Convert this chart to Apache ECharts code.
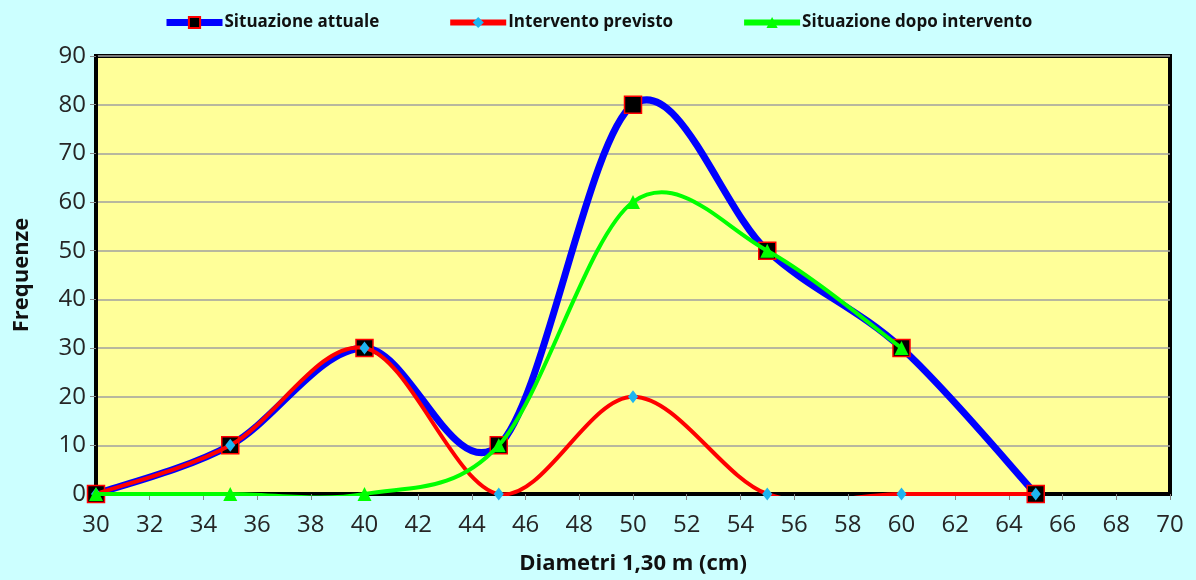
<!DOCTYPE html>
<html>
<head>
<meta charset="utf-8">
<script src="https://cdn.jsdelivr.net/npm/echarts@6/dist/echarts.min.js"></script>
<style>
html,body{margin:0;padding:0;background:#CCFFFF;}
#chart{width:1196px;height:580px;}
</style>
</head>
<body>
<div id="chart"></div>
<script>
// Diameter classes (cm) and frequencies per scenario
const diametri = [30, 35, 40, 45, 50, 55, 60, 65];
const situazioneAttuale = [0, 10, 30, 10, 80, 50, 30, 0];
const interventoPrevisto = [0, 10, 30, 0, 20, 0, 0, 0];
const diametriDopo = [30, 35, 40, 45, 50, 55, 60];
const situazioneDopo = [0, 0, 0, 10, 60, 50, 30];

const pairs = (xs, ys) => xs.map((x, i) => [x, ys[i]]);

const font = "'Open Sans', 'Noto Sans', sans-serif";

// Spreadsheet-style smoothed curve: cubic Bezier segments whose control
// points sit 1/6 of the neighbour chord away from each point (pixel space).
function smoothCurve(xs, ys, color, width) {
  return function (params, api) {
    if (params.dataIndex !== 0) return null;
    const p = xs.map((x, i) => api.coord([x, ys[i]]));
    const n = p.length;
    const tan = p.map((pt, i) => {
      const a = p[Math.max(i - 1, 0)];
      const b = p[Math.min(i + 1, n - 1)];
      return [(b[0] - a[0]) / 6, (b[1] - a[1]) / 6];
    });
    let d = 'M' + p[0][0] + ' ' + p[0][1];
    for (let i = 1; i < n; i++) {
      const c1 = [p[i - 1][0] + tan[i - 1][0], p[i - 1][1] + tan[i - 1][1]];
      const c2 = [p[i][0] - tan[i][0], p[i][1] - tan[i][1]];
      d += ' C' + c1[0] + ' ' + c1[1] + ' ' + c2[0] + ' ' + c2[1] + ' ' + p[i][0] + ' ' + p[i][1];
    }
    return {
      type: 'path',
      shape: { pathData: d },
      style: { fill: null, stroke: color, lineWidth: width, lineCap: 'round', lineJoin: 'round' }
    };
  };
}

const chart = echarts.init(document.getElementById('chart'));
chart.setOption({
  backgroundColor: '#CCFFFF',
  animation: false,
  textStyle: { fontFamily: font },
  legend: {
    top: 9,
    left: 158,
    itemWidth: 56,
    itemHeight: 14,
    itemGap: 68,
    textStyle: { fontFamily: font, fontSize: 17, fontWeight: 'bold', color: '#111', padding: [0, 0, 0, -3] },
    data: [
      { name: 'Situazione attuale', lineStyle: { color: '#0000FF', width: 7, opacity: 1 } },
      { name: 'Intervento previsto', lineStyle: { color: '#FF0000', width: 6, opacity: 1 } },
      { name: 'Situazione dopo intervento', lineStyle: { color: '#00FF00', width: 6, opacity: 1 } }
    ]
  },
  grid: {
    left: 96, right: 26, top: 56, bottom: 86,
    show: true,
    backgroundColor: '#FFFF99',
    borderColor: '#000',
    borderWidth: 4
  },
  xAxis: {
    type: 'value',
    min: 30, max: 70, interval: 2,
    name: 'Diametri 1,30 m (cm)',
    nameLocation: 'middle',
    nameGap: 59,
    nameTextStyle: { fontSize: 22, fontWeight: 'bold', color: '#111', fontFamily: font },
    axisLine: { show: true, onZero: false, lineStyle: { color: '#000', width: 4 } },
    axisTick: { show: true, length: 6, lineStyle: { color: '#888', width: 1 } },
    axisLabel: { fontSize: 24, color: '#262626', margin: 19, fontFamily: font },
    splitLine: { show: false }
  },
  yAxis: {
    type: 'value',
    min: 0, max: 90, interval: 10,
    name: 'Frequenze',
    nameLocation: 'middle',
    nameGap: 63,
    nameTextStyle: { fontSize: 22, fontWeight: 'bold', color: '#111', fontFamily: font },
    axisLine: { show: true, lineStyle: { color: '#000', width: 4 } },
    axisTick: { show: true, length: 6, lineStyle: { color: '#888', width: 1 } },
    axisLabel: { fontSize: 24, color: '#262626', margin: 10, fontFamily: font },
    splitLine: { show: true, lineStyle: { color: '#A0A0A0', width: 1.5 } }
  },
  series: [
    // markers (and legend entries)
    {
      name: 'Situazione attuale',
      type: 'line',
      data: pairs(diametri, situazioneAttuale),
      lineStyle: { color: '#0000FF', width: 7, opacity: 0 },
      itemStyle: { color: '#000000', borderColor: '#FF0000', borderWidth: 1.5 },
      symbol: 'rect',
      symbolSize: 17,
      z: 3
    },
    {
      name: 'Intervento previsto',
      type: 'line',
      data: pairs(diametri, interventoPrevisto),
      lineStyle: { color: '#FF0000', width: 4, opacity: 0 },
      itemStyle: { color: '#1EB4F0', borderWidth: 0 },
      symbol: 'diamond',
      symbolSize: [10, 13],
      z: 5
    },
    {
      name: 'Situazione dopo intervento',
      type: 'line',
      data: pairs(diametriDopo, situazioneDopo),
      lineStyle: { color: '#00FF00', width: 4, opacity: 0 },
      itemStyle: { color: '#00FF00', borderWidth: 0 },
      symbol: 'triangle',
      symbolSize: 14,
      z: 7
    },
    // smoothed curves, clipped to the plot area
    {
      name: 'Situazione attuale',
      type: 'custom',
      clip: true,
      lineStyle: { width: 4 },
      data: pairs(diametri, situazioneAttuale),
      renderItem: smoothCurve(diametri, situazioneAttuale, '#0000FF', 7),
      z: 2
    },
    {
      name: 'Intervento previsto',
      type: 'custom',
      clip: true,
      lineStyle: { width: 4 },
      data: pairs(diametri, interventoPrevisto),
      renderItem: smoothCurve(diametri, interventoPrevisto, '#FF0000', 4),
      z: 4
    },
    {
      name: 'Situazione dopo intervento',
      type: 'custom',
      clip: true,
      lineStyle: { width: 4 },
      data: pairs(diametriDopo, situazioneDopo),
      renderItem: smoothCurve(diametriDopo, situazioneDopo, '#00FF00', 4),
      z: 6
    }
  ]
});
</script>
</body>
</html>
